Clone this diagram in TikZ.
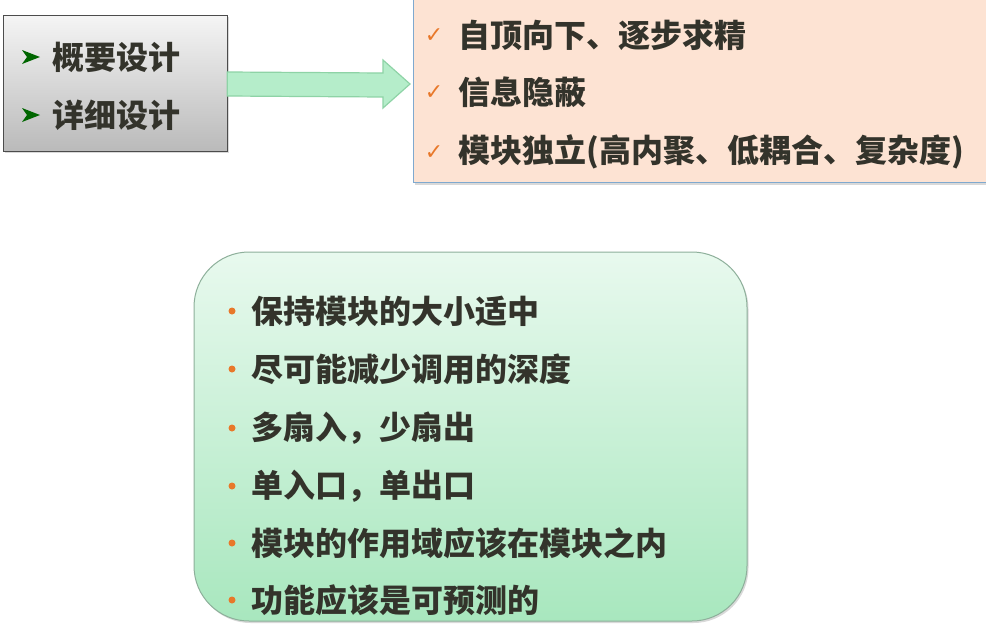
\documentclass[tikz,border=0pt]{standalone}
\usepackage{fontspec}
\newfontfamily\cjk{Noto Sans CJK SC}
\newfontfamily\sym{DejaVu Sans}
\usetikzlibrary{calc,shadows}
\definecolor{peach}{HTML}{FDE3D3}
\definecolor{peachline}{HTML}{7FA9CF}
\definecolor{mint}{HTML}{B5EDCA}
\definecolor{mintline}{HTML}{8ED3A6}
\definecolor{tick}{HTML}{E8782A}
\definecolor{ink}{HTML}{33332B}
\definecolor{greentop}{HTML}{E8F9EE}
\definecolor{greenbot}{HTML}{A8E7BE}
\definecolor{greenline}{HTML}{8DAF9A}
\tikzset{
  item/.style={anchor=west, inner sep=0pt, text=ink, font=\cjk\bfseries\fontsize{32}{38}\selectfont},
  tickmark/.style={inner sep=0pt, text=tick, font=\sym\fontsize{22}{26}\selectfont},
  dot/.style={circle, fill=tick, inner sep=0pt, minimum size=7pt},
  pointer/.style={fill=green!40!black},
  bigarrow/.style={fill=mint, draw=mintline, line width=1.2pt},
  softshadow/.style={drop shadow={opacity=0.3, shadow xshift=1.5pt, shadow yshift=-2pt}},
}
\def\pointer(#1){\fill[pointer] ($(#1)+(-9,-7)$) -- ($(#1)+(9,0)$) -- ($(#1)+(-9,7)$) -- ($(#1)+(-4,0)$) -- cycle;}

\begin{document}
\begin{tikzpicture}[x=1pt,y=-1pt]
	\useasboundingbox (0,0) rectangle (986,624);
	\clip (0,0) rectangle (986,624);
	%%%%% START %%%%%
	
	\node[draw=black!70, top color=black!4, bottom color=black!27, softshadow, minimum width=224pt, minimum height=136pt] (design) at (115,83) {};
	\pointer(31,57)
	\node[item] (outline) at (52,57) {概要设计};
	\pointer(31,115)
	\node[item] (detail) at (52,115) {详细设计};
	
	\node[draw=peachline, fill=peach, line width=1pt, softshadow, anchor=north west, minimum width=600pt, minimum height=200pt] (rules) at (413,-18) {};
	\node[tickmark] (tick1) at (434,36) {✓};
	\node[item] (topdown) at (458,35) {自顶向下、逐步求精};
	\node[tickmark] (tick2) at (434,93) {✓};
	\node[item] (hiding) at (458,92) {信息隐蔽};
	\node[tickmark] (tick3) at (434,153) {✓};
	\node[item] (independent) at (458,152) {模块独立(高内聚、低耦合、复杂度)};
	
	\coordinate (tip) at ($(rules.west |- design.east)+(-3,1)$);
	\draw[bigarrow] ($(design.east)+(0,-11)$) -- ($(tip)+(-27,-11)$) -- ($(tip)+(-27,-24)$) -- (tip)
		-- ($(tip)+(-27,24)$) -- ($(tip)+(-27,13)$) -- ($(design.east)+(0,13)$) -- cycle;
	
	\node[draw=greenline, line width=1pt, rounded corners=55pt, top color=greentop, bottom color=greenbot, softshadow, minimum width=553pt, minimum height=369pt] (advice) at (470.5,436.5) {};
	\node[dot] (dot1) at (232,311) {};
	\node[item] (size) at (251,311) {保持模块的大小适中};
	\node[dot] (dot2) at (232,369) {};
	\node[item] (depth) at (251,369) {尽可能减少调用的深度};
	\node[dot] (dot3) at (232,428) {};
	\node[item] (fan) at (251,428) {多扇入，少扇出};
	\node[dot] (dot4) at (232,486) {};
	\node[item] (entry) at (251,486) {单入口，单出口};
	\node[dot] (dot5) at (232,543) {};
	\node[item] (scope) at (251,543) {模块的作用域应该在模块之内};
	\node[dot] (dot6) at (232,600) {};
	\node[item] (predict) at (251,600) {功能应该是可预测的};
	
	%%%%% END %%%%%
\end{tikzpicture}
\end{document}
